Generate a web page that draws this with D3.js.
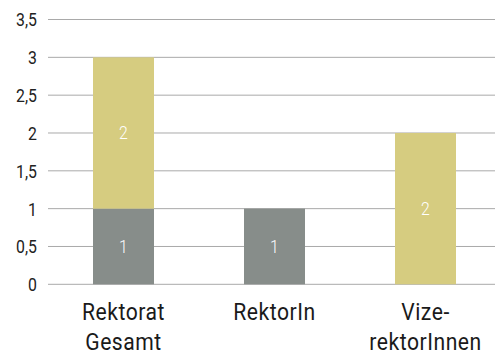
<!DOCTYPE html>
<html>
<head>
<meta charset="utf-8">
<script src="https://cdn.jsdelivr.net/npm/d3@7"></script>
<style>
  html, body { margin: 0; padding: 0; background: #fff; }
  svg text { font-family: Roboto, "Liberation Sans", sans-serif; }
</style>
</head>
<body>
<svg id="chart" width="495" height="355"></svg>
<script>
// Categories (multi-line labels) and stacked series
const categories = ["Rektorat Gesamt", "RektorIn", "Vize-rektorInnen"];
const categoryLines = [["Rektorat", "Gesamt"], ["RektorIn"], ["Vize-", "rektorInnen"]];
const seriesNames = ["unten", "oben"];
const seriesLower = [1, 1, 0];   // grey segment
const seriesUpper = [2, 0, 2];   // yellow segment
const yTicks = [0, 0.5, 1, 1.5, 2, 2.5, 3, 3.5];
const yTickLabels = ["0", "0,5", "1", "1,5", "2", "2,5", "3", "3,5"];
const colors = ["#878d8a", "#d6cc80"];

const svg = d3.select("#chart");
const plotLeft = 48, plotRight = 495, plotTop = 19.5, plotBottom = 284.3;
const narrow = 0.88; // horizontal squeeze for a condensed look

const x = d3.scaleBand()
  .domain(categories)
  .range([plotLeft, plotLeft + 453])
  .paddingInner(0.596)
  .paddingOuter(0.298);

const y = d3.scaleLinear().domain([0, 3.5]).range([plotBottom, plotTop]);

// Horizontal gridlines
svg.append("g")
  .selectAll("line")
  .data(yTicks)
  .join("line")
  .attr("x1", plotLeft).attr("x2", plotRight)
  .attr("y1", d => y(d)).attr("y2", d => y(d))
  .attr("stroke", "#a9a9a9")
  .attr("stroke-width", 1);

// Y axis labels
const yAxis = d3.axisLeft(y)
  .tickValues(yTicks)
  .tickFormat((d, i) => yTickLabels[i])
  .tickSize(0)
  .tickPadding(0);
const yg = svg.append("g").attr("transform", `translate(37,0)`).call(yAxis);
yg.select(".domain").remove();
yg.attr("font-family", null).attr("font-size", null);
yg.selectAll(".tick text")
  .attr("font-size", 18)
  .attr("fill", "#222")
  .attr("dy", "0.36em")
  .attr("x", 0)
  .attr("transform", `scale(${narrow},1)`);

// Stack the two series
const rows = categories.map((c, i) => ({ cat: c, unten: seriesLower[i], oben: seriesUpper[i] }));
const stacked = d3.stack().keys(seriesNames)(rows);

const layers = svg.append("g")
  .selectAll("g")
  .data(stacked)
  .join("g")
  .attr("fill", (d, i) => colors[i]);

layers.selectAll("rect")
  .data(d => d.filter(s => s[1] - s[0] > 0))
  .join("rect")
  .attr("x", d => x(d.data.cat))
  .attr("width", x.bandwidth())
  .attr("y", d => y(d[1]))
  .attr("height", d => y(d[0]) - y(d[1]));

// Value labels inside segments
layers.selectAll("text")
  .data(d => d.filter(s => s[1] - s[0] > 0))
  .join("text")
  .attr("transform", d => `translate(${x(d.data.cat) + x.bandwidth() / 2},${y((d[0] + d[1]) / 2)}) scale(${narrow},1)`)
  .attr("dy", "0.36em")
  .attr("text-anchor", "middle")
  .attr("font-size", 18)
  .attr("font-weight", 300)
  .attr("fill", "#fff")
  .text(d => d[1] - d[0]);

// Category labels
const xg = svg.append("g");
categories.forEach((c, i) => {
  const t = xg.append("text")
    .attr("transform", `translate(${x(c) + x.bandwidth() / 2},320) scale(${narrow},1)`)
    .attr("text-anchor", "middle")
    .attr("font-size", 24)
    .attr("letter-spacing", 0.6)
    .attr("fill", "#1a1a1a");
  categoryLines[i].forEach((line, j) => {
    t.append("tspan")
      .attr("x", 0)
      .attr("dy", j === 0 ? 0 : 30)
      .text(line);
  });
});
</script>
</body>
</html>
